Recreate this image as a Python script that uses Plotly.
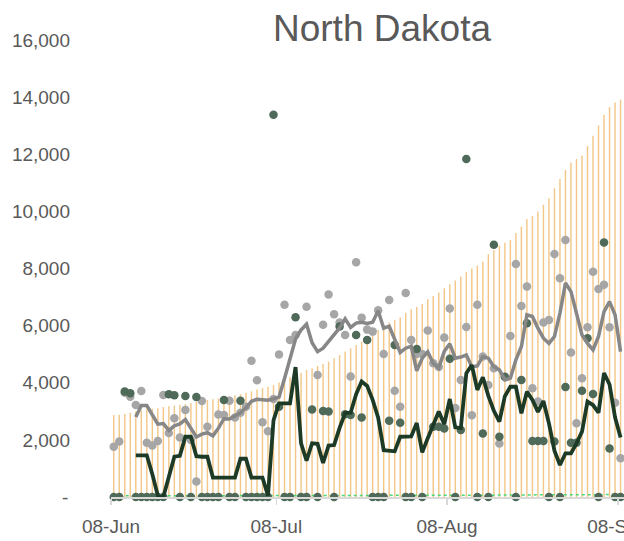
import pandas as pd
import plotly.graph_objects as go

start_date = "2020-06-08 12:00"

# orange bars (daily values, Jun 8 .. Sep 8)
bars = [2870, 2880, 2910, 2950, 2990, 3030, 3070, 3090, 3110, 3150,
        3180, 3200, 3230, 3250, 3280, 3330, 3350, 3400, 3420, 3450,
        3500, 3530, 3560, 3600, 3650, 3700, 3760, 3810, 3860, 3920,
        4010, 4100, 4190, 4270, 4340, 4450, 4510, 4590, 4660, 4740,
        4860, 4970, 5090, 5210, 5320, 5440, 5560, 5730, 5850, 6030,
        6110, 6200, 6290, 6450, 6570, 6650, 6760, 6930, 7040, 7160,
        7310, 7450, 7580, 7720, 7870, 8000, 8100, 8240, 8500, 8650,
        8800, 8900, 9000, 9240, 9470, 9730, 9840, 10000, 10230, 10460,
        10810, 11130, 11450, 11710, 11830, 11960, 12290, 12650, 13010, 13380,
        13650, 13810, 13910]

grey_dots = [1760, 1940, 3650, 3510, 3220, 3710, 1900, 1800, 1960, 3570,
             2240, 2760, 2080, 3050, 2000, 540, 3360, 2460, None, 2890,
             2870, 3370, 2780, 2950, 3160, 4770, 4090, 2620, 2300, 3430,
             4990, 6730, 5500, 5670, None, 6660, None, 4270, 6030, 7090,
             6400, 6110, 5670, 4215, 8220, 6280, 5860, 5790, 6540, 5005,
             6900, 3720, 3160, 7140, 5500, 5010, 5010, 5830, 4680, 4550,
             5580, 6600, 3120, 4100, 5950, 2860, 6730, 4920, 3920, 4510,
             1870, 4200, 5640, 8160, 6690, 7370, 3810, 3340, 6110, 6200,
             8510, 7660, 9000, 5060, 2580, 4160, 5940, 7890, 7280, 7430,
             5940, 3300, 1360]

grey_avg = [None, None, None, None,
            2800, 3200, 3200, 2870, 2550, 2570, 2330, 2490, 2560, 2710,
            2430, 2100, 2200, 2250, 2140, 2410, 2740, 2730, 2840, 2950,
            3120, 3350, 3420, 3390, 3390, 3440, 3500, 4150, 4880, 5530,
            5850, 6050, 5400, 5090, 5210, 5440, 5650, 5920, 6240, 5940,
            6090, 6120, 6080, 6120, 6520, 5910, 5980, 5530, 5060, 5210,
            5280, 4420, 4860, 5080, 4680, 4520, 5100, 5360, 4860, 4900,
            4970, 4560, 4590, 4920, 4860, 4560, 4450, 4100, 4160, 4800,
            5270, 6380, 6320, 5910, 5560, 5380, 5620, 6440, 7490, 7190,
            6440, 5670, 5380, 5150, 5620, 6490, 6840, 6380, 5090]

green_dots = [0, 0, 3690, 3630, 0, 0, 0, 0, 0, 0,
              3600, 3560, 0, 3540, 0, 3500, 0, 0, 0, 0,
              3400, 0, 0, 3370, 0, 0, 0, 0, 0, 13380,
              3160, 0, 0, 6290, 0, 0, 3060, 0, 3010, 2990,
              0, 5970, 2900, 2870, 5670, 2780, 5500, 0, 0, 0,
              2670, 5320, 2600, 0, 0, 5180, 0, None, 2460, 2460,
              2400, 4840, 0, 2350, 11830, None, 0, 2220, 0, 8830,
              2110, 4210, None, 0, 4100, 6080, 1960, 1960, 1960, 0,
              1940, 0, 3850, 1900, 1900, 3720, 5560, 3610, 0, 8910,
              1700, 0, 0]

green_avg = [None, None, None, None,
             1460, 1460, 1460, 800, 50, 0, 770, 1410, 1440, 2110,
             2110, 1430, 1410, 1410, 680, 680, 680, 680, 680, 1340,
             1340, 680, 680, 680, 50, 2680, 3280, 3280, 3280, 4550,
             1880, 1270, 1880, 1860, 1190, 1800, 1820, 2420, 2940, 2950,
             3600, 4040, 3890, 3400, 2780, 1640, 1610, 1600, 2110, 2120,
             2120, 2590, 1560, 2060, 2520, 2990, 2550, 3430, 2440, 2410,
             4330, 4620, 3750, 4190, 3540, 3020, 2640, 3530, 3860, 3860,
             2930, 3690, 3400, 2980, 3360, 2580, 1620, 1120, 1530, 1530,
             1880, 2290, 3340, 3220, 2950, 4340, 3940, 2790, 2080]

small_series = [40, 40, 40, 40, 40, 40, 40, 40, 40, 40,
                40, 40, 40, 40, 40, 40, 40, 40, 40, 40,
                45, 45, 45, 45, 45, 45, 45, 45, 45, 45,
                50, 50, 50, 50, 50, 50, 50, 50, 50, 50,
                50, 50, 50, 50, 50, 55, 55, 55, 55, 55,
                55, 55, 55, 55, 55, 60, 60, 60, 60, 60,
                60, 60, 60, 60, 60, 65, 65, 65, 65, 65,
                70, 70, 70, 70, 70, 70, 75, 75, 75, 75,
                75, 75, 80, 80, 80, 80, 80, 80, 85, 85,
                85, 85, 85]

x_tick_vals = ["2020-06-08", "2020-07-08", "2020-08-08", "2020-09-08"]
x_tick_text = ["08-Jun", "08-Jul", "08-Aug", "08-Sep"]
y_tick_vals = [0, 2000, 4000, 6000, 8000, 10000, 12000, 14000, 16000]
y_tick_text = ["-\u200a", "2,000", "4,000", "6,000", "8,000", "10,000", "12,000", "14,000", "16,000"]

dates = pd.date_range(start_date, periods=len(bars), freq="D")
DAY_MS = 86400000

fig = go.Figure()
fig.add_trace(go.Bar(x=dates, y=bars, width=0.26 * DAY_MS,
                     marker=dict(color="#F2C27C", line=dict(width=0)), opacity=0.9))
fig.add_trace(go.Scatter(x=dates, y=small_series, mode="lines",
                         line=dict(color="#4CD977", width=1.5, dash="dot"), cliponaxis=False))
fig.add_trace(go.Scatter(x=dates, y=grey_dots, mode="markers",
                         marker=dict(color="#A6A6A6", size=8.5), cliponaxis=False))
fig.add_trace(go.Scatter(x=dates, y=green_dots, mode="markers",
                         marker=dict(color="#4F6A58", size=8.5), cliponaxis=False))
fig.add_trace(go.Scatter(x=dates, y=grey_avg, mode="lines",
                         line=dict(color="#878787", width=3.5), cliponaxis=False))
fig.add_trace(go.Scatter(x=dates, y=green_avg, mode="lines",
                         line=dict(color="#1D3A26", width=3.8), cliponaxis=False))

font_family = "Liberation Sans, Arial, sans-serif"
fig.update_layout(
    width=624, height=541,
    margin=dict(l=110.5, r=0, t=40, b=44, autoexpand=False),
    paper_bgcolor="white", plot_bgcolor="white",
    showlegend=False,
    font=dict(family=font_family, color="#595959", size=19),
    title=dict(text="North Dakota", x=382 / 624, xanchor="center",
               y=1 - 28 / 541, yanchor="middle",
               font=dict(size=37, color="#595959", family=font_family)),
    xaxis=dict(type="date", range=["2020-06-08 00:00", "2020-09-09 03:00"],
               automargin=False,
               tickmode="array", tickvals=x_tick_vals, ticktext=x_tick_text,
               showline=True, linecolor="#D9D9D9", linewidth=1.5,
               ticks="outside", tickcolor="#D9D9D9", ticklen=6, tickwidth=1.5,
               showgrid=False, zeroline=False, ticklabelstandoff=6,
               ticklabeloverflow="allow",
               tickfont=dict(size=19, color="#595959")),
    yaxis=dict(range=[0, 16000], tickmode="array", tickvals=y_tick_vals,
               automargin=False,
               ticktext=y_tick_text, showgrid=False, zeroline=False,
               showline=False, ticks="", ticklabelstandoff=40,
               tickfont=dict(size=19, color="#595959")),
)

fig.write_html(
    "out.html",
    config={"displayModeBar": False, "staticPlot": True},
    post_script="document.body.style.margin='0px';document.body.style.overflow='hidden';",
)
